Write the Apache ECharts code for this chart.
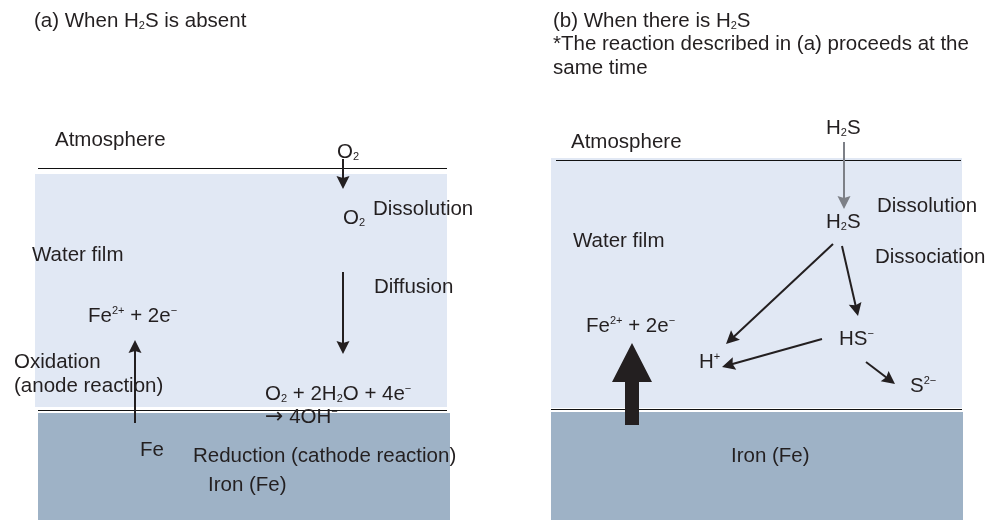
<!DOCTYPE html>
<html>
<head>
<meta charset="utf-8">
<script src="https://cdn.jsdelivr.net/npm/echarts@6/dist/echarts.min.js"></script>
<style>
  html, body { margin: 0; background: #fff; }
  #chart { width: 987px; height: 520px; }
</style>
</head>
<body>
<div id="chart"></div>
<script>
// layers: [x0, y0, x1, y1, kind]  kind 0 = water film, 1 = iron
const layers = [
    [35, 174, 447, 407, 0],
    [38, 413, 450, 520, 1],
    [551, 158, 962, 408, 0],
    [551, 412, 963, 520, 1]
];

// interface lines: [x0, x1, y]
const interfaces = [
    [38, 447, 168],
    [38, 447, 410],
    [556, 961, 160],
    [551, 962, 409]
];

// arrows: [x0, y0, x1 (tip), y1 (tip), kind]  0 thin black, 1 gray, 2 big
const arrows = [
    [343, 159, 343, 189, 0],
    [343, 272, 343, 354, 0],
    [135, 423, 135, 340, 0],
    [844, 142, 844, 209, 1],
    [833, 244, 726, 344, 0],
    [842, 246, 858, 316, 0],
    [822, 339, 722, 367, 0],
    [866, 362, 895, 384, 0],
    [632, 425, 632, 343, 2]
];

// labels: [x, y, text]
const labels = [
    [34, 21, '(a) When H{sub|2}S is absent'],
    [553, 21, '(b) When there is H{sub|2}S'],
    [553, 44, '*The reaction described in (a) proceeds at the'],
    [553, 68, 'same time'],
    [55, 140, 'Atmosphere'],
    [337, 152, 'O{sub|2}'],
    [343, 218, 'O{sub|2}'],
    [373, 209, 'Dissolution'],
    [32, 255, 'Water film'],
    [374, 287, 'Diffusion'],
    [88, 316, 'Fe{sup|2+} + 2e{sup|−}'],
    [14, 362, 'Oxidation'],
    [14, 386, '(anode reaction)'],
    [265, 394, 'O{sub|2} + 2H{sub|2}O + 4e{sup|−}'],
    [265, 417, '{arr|→} 4OH{sup|−}'],
    [140, 450, 'Fe'],
    [193, 456, 'Reduction (cathode reaction)'],
    [208, 485, 'Iron (Fe)'],
    [571, 142, 'Atmosphere'],
    [826, 128, 'H{sub|2}S'],
    [877, 206, 'Dissolution'],
    [826, 222, 'H{sub|2}S'],
    [573, 241, 'Water film'],
    [875, 257, 'Dissociation'],
    [586, 326, 'Fe{sup|2+} + 2e{sup|−}'],
    [839, 339, 'HS{sup|−}'],
    [699, 362, 'H{sup|+}'],
    [910, 386, 'S{sup|2−}'],
    [731, 456, 'Iron (Fe)']
];

const TEXT = '#231f20';
const layerColors = ['#e1e8f4', '#9eb2c6'];
const arrowColors = ['#231f20', '#7d8087', '#231f20'];

const chart = echarts.init(document.getElementById('chart'));

function renderLayer(params, api) {
    const a = api.coord([api.value(0), api.value(1)]);
    const b = api.coord([api.value(2), api.value(3)]);
    return {
        type: 'rect',
        shape: { x: a[0], y: a[1], width: b[0] - a[0], height: b[1] - a[1] },
        style: { fill: layerColors[api.value(4)] }
    };
}

function renderInterface(params, api) {
    const a = api.coord([api.value(0), api.value(2)]);
    const b = api.coord([api.value(1), api.value(2)]);
    // half-pixel offset keeps the 1px rule crisp
    return {
        type: 'line',
        shape: { x1: a[0], y1: a[1] + 0.5, x2: b[0], y2: b[1] + 0.5 },
        style: { stroke: '#111', lineWidth: 1 }
    };
}

function renderArrow(params, api) {
    const p0 = api.coord([api.value(0), api.value(1)]);
    const p1 = api.coord([api.value(2), api.value(3)]);
    const kind = api.value(4);
    const color = arrowColors[kind];
    const dx = p1[0] - p0[0], dy = p1[1] - p0[1];
    const len = Math.hypot(dx, dy);
    const ux = dx / len, uy = dy / len;
    const nx = -uy, ny = ux;
    if (kind === 2) {
        const hl = 39, hw = 20, sw = 7;
        const bx = p1[0] - ux * hl, by = p1[1] - uy * hl;
        return {
            type: 'polygon',
            shape: {
                points: [
                    [p0[0] + nx * sw, p0[1] + ny * sw],
                    [bx + nx * sw, by + ny * sw],
                    [bx + nx * hw, by + ny * hw],
                    [p1[0], p1[1]],
                    [bx - nx * hw, by - ny * hw],
                    [bx - nx * sw, by - ny * sw],
                    [p0[0] - nx * sw, p0[1] - ny * sw]
                ]
            },
            style: { fill: color }
        };
    }
    const hl = 13, hw = 6.5;
    const bx = p1[0] - ux * hl, by = p1[1] - uy * hl;
    return {
        type: 'group',
        children: [
            {
                type: 'line',
                shape: { x1: p0[0], y1: p0[1], x2: bx + ux * 3, y2: by + uy * 3 },
                style: { stroke: color, lineWidth: 2 }
            },
            {
                type: 'polygon',
                shape: {
                    points: [
                        [p1[0], p1[1]],
                        [bx + nx * hw, by + ny * hw],
                        [bx + ux * 2, by + uy * 2],
                        [bx - nx * hw, by - ny * hw]
                    ]
                },
                style: { fill: color }
            }
        ]
    };
}

function renderLabel(params, api) {
    const p = api.coord([api.value(0), api.value(1)]);
    return {
        type: 'text',
        x: p[0],
        y: p[1],
        style: {
            text: labels[params.dataIndex][2],
            fill: TEXT,
            fontSize: 20.5,
            fontFamily: 'Liberation Sans, Arial, sans-serif',
            align: 'left',
            verticalAlign: 'middle',
            rich: {
                sub: { fontSize: 11, verticalAlign: 'bottom', lineHeight: 7, fill: TEXT },
                sup: { fontSize: 11, verticalAlign: 'top', lineHeight: 11, fill: TEXT },
                arr: { fontSize: 22, fontFamily: 'DejaVu Sans', fill: TEXT }
            }
        }
    };
}

chart.setOption({
    animation: false,
    grid: { left: 0, right: 0, top: 0, bottom: 0 },
    xAxis: { type: 'value', min: 0, max: 987, show: false },
    yAxis: { type: 'value', min: 0, max: 520, inverse: true, show: false },
    series: [
        { type: 'custom', renderItem: renderLayer, data: layers, silent: true },
        { type: 'custom', renderItem: renderInterface, data: interfaces, silent: true },
        { type: 'custom', renderItem: renderArrow, data: arrows, silent: true },
        {
            type: 'custom',
            renderItem: renderLabel,
            data: labels.map((d) => [d[0], d[1]]),
            silent: true
        }
    ]
});
</script>
</body>
</html>
